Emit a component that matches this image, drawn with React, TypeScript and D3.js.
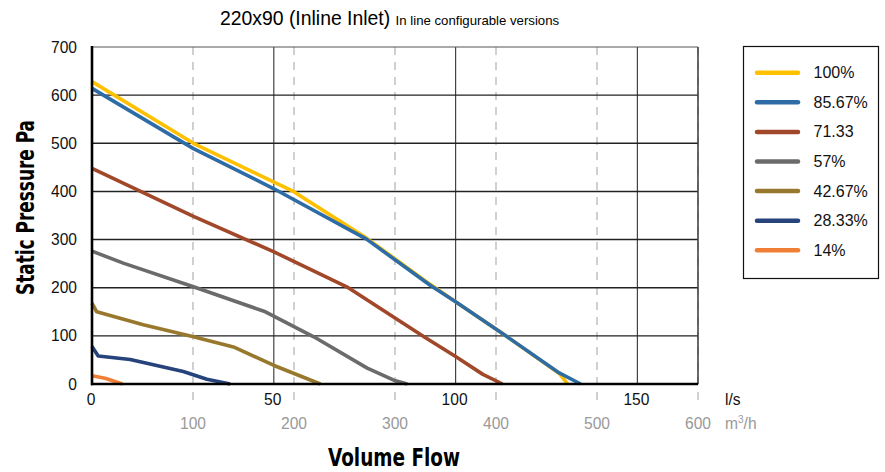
import React from "react";
import * as d3 from "d3";

type Pt = [number, number];

const seriesNames = ["100%", "85.67%", "71.33", "57%", "42.67%", "28.33%", "14%"];
const seriesColors = ["#FFC000", "#2D6CA5", "#A2482A", "#6B6B6B", "#98782C", "#26437C", "#F07F35"];

// flow in l/s, static pressure in Pa
const s100: Pt[] = [[0, 628], [27.9, 500], [49.9, 420], [55.4, 400], [75.5, 303], [93, 207], [100, 171], [114, 99], [128.5, 22], [130.8, 0]];
const s8567: Pt[] = [[0, 614], [27.9, 489], [49.9, 406], [75.5, 301], [93, 205], [100, 171], [114, 99], [128.5, 23], [134.4, 0]];
const s7133: Pt[] = [[0, 448], [27.9, 348], [49.9, 275], [70.5, 200], [91.3, 98], [100, 57], [107.5, 20], [112.9, 0]];
const s57: Pt[] = [[0, 276], [8.6, 251], [27.9, 202], [47.7, 150], [61, 98], [75.7, 33], [83, 8], [86.7, 0]];
const s4267: Pt[] = [[0, 168], [1.3, 150], [14.1, 123], [27.9, 98], [38.9, 77], [49.9, 39], [62.8, 0]];
const s2833: Pt[] = [[0, 78], [1.7, 58], [10.5, 51], [25.1, 26], [31.6, 10], [38, 0]];
const s14: Pt[] = [[0, 17], [3.6, 12], [8.4, 0]];
const seriesData = [s100, s8567, s7133, s57, s4267, s2833, s14];

const yTicks = [0, 100, 200, 300, 400, 500, 600, 700];
const lsTicks = [0, 50, 100, 150];
const m3hTicks = [100, 200, 300, 400, 500, 600];

const W = 885;
const H = 472;

export default function App() {
  const x = d3.scaleLinear().domain([0, 600 / 3.6]).range([92, 698]);
  const y = d3.scaleLinear().domain([0, 700]).range([384, 47]);
  const line = d3
    .line<Pt>()
    .x((d) => x(d[0]))
    .y((d) => y(d[1]));
  const font = "'Liberation Sans', Arial, Helvetica, sans-serif";
  const condensed = "'Liberation Sans Narrow', 'DejaVu Sans Condensed', 'Liberation Sans', sans-serif";
  const x0 = x(0);
  const x1 = x(600 / 3.6);
  const yB = y(0);
  const yT = y(700);

  return (
    <svg width={W} height={H} style={{ position: "absolute", left: 0, top: 0, background: "#fff" }}>
      {/* title */}
      <text x={389.5} y={25} textAnchor="middle" fontFamily={font}>
        <tspan fontSize={19.4}>220x90 (Inline Inlet) </tspan>
        <tspan fontSize={13.2}>In line configurable versions</tspan>
      </text>

      {/* dashed m3/h grid */}
      {m3hTicks.map((t) => (
        <line
          key={"d" + t}
          x1={x(t / 3.6)}
          x2={x(t / 3.6)}
          y1={yT}
          y2={407}
          stroke="#d0d0d0"
          strokeWidth={2}
          strokeDasharray="8,7"
        />
      ))}
      {/* solid l/s grid */}
      {lsTicks.slice(1).map((t) => (
        <line key={"v" + t} x1={x(t)} x2={x(t)} y1={yT} y2={yB} stroke="#444" strokeWidth={1.2} />
      ))}
      {/* horizontal grid */}
      {yTicks.slice(1, -1).map((t) => (
        <line key={"h" + t} x1={x0} x2={x1} y1={y(t)} y2={y(t)} stroke="#222" strokeWidth={1.4} />
      ))}
      {/* border */}
      <line x1={x0} x2={x1} y1={yT} y2={yT} stroke="#555" strokeWidth={1.2} />
      <line x1={x1} x2={x1} y1={yT} y2={yB} stroke="#444" strokeWidth={1.6} />

      {/* series */}
      {seriesData.map((d, i) => (
        <path
          key={"s" + i}
          d={line(d) || ""}
          fill="none"
          stroke={seriesColors[i]}
          strokeWidth={3.6}
          strokeLinejoin="round"
        />
      ))}

      {/* axes lines */}
      <line x1={x0} x2={x0} y1={yT - 1} y2={yB + 1.2} stroke="#000" strokeWidth={2.6} />
      <line x1={x0 - 1} x2={x1} y1={yB} y2={yB} stroke="#000" strokeWidth={2.6} />

      {/* y tick labels */}
      {yTicks.map((t) => (
        <text key={"yl" + t} x={77} y={y(t) + 5.5} textAnchor="end" fontFamily={font} fontSize={15.6} fill="#111">
          {t}
        </text>
      ))}
      {/* l/s labels */}
      {lsTicks.map((t) => (
        <text key={"xl" + t} x={x(t) - 1} y={405} textAnchor="middle" fontFamily={font} fontSize={15.6} fill="#111">
          {t}
        </text>
      ))}
      <text x={725} y={405} fontFamily={font} fontSize={15.6} fill="#111">
        l/s
      </text>
      {/* m3/h labels */}
      {m3hTicks.map((t) => (
        <text key={"ml" + t} x={x(t / 3.6)} y={429} textAnchor="middle" fontFamily={font} fontSize={15.6} fill="#999">
          {t}
        </text>
      ))}
      <text x={725} y={429} fontFamily={font} fontSize={15.6} fill="#999">
        m<tspan fontSize={10} dy={-6}>3</tspan>
        <tspan dy={6}>/h</tspan>
      </text>

      {/* axis titles */}
      <text
        transform="translate(33.5,207.5) rotate(-90)"
        textAnchor="middle"
        fontFamily={condensed}
        fontWeight="bold"
        fontSize={24}
        textLength={175}
        lengthAdjust="spacingAndGlyphs"
        fill="#000"
      >
        Static Pressure Pa
      </text>
      <text
        x={394}
        y={466}
        textAnchor="middle"
        fontFamily={condensed}
        fontWeight="bold"
        fontSize={24}
        textLength={132}
        lengthAdjust="spacingAndGlyphs"
        fill="#000"
      >
        Volume Flow
      </text>

      {/* legend */}
      <rect x={743.5} y={46.5} width={135} height={232} fill="#fff" stroke="#111" strokeWidth={1.2} />
      {seriesNames.map((n, i) => {
        const ly = 72.7 + i * 29.6;
        return (
          <g key={"lg" + i}>
            <line x1={757} x2={798} y1={ly} y2={ly} stroke={seriesColors[i]} strokeWidth={4.5} strokeLinecap="round" />
            <text x={813.5} y={ly + 5.5} fontFamily={font} fontSize={16} fill="#111">
              {n}
            </text>
          </g>
        );
      })}
    </svg>
  );
}
